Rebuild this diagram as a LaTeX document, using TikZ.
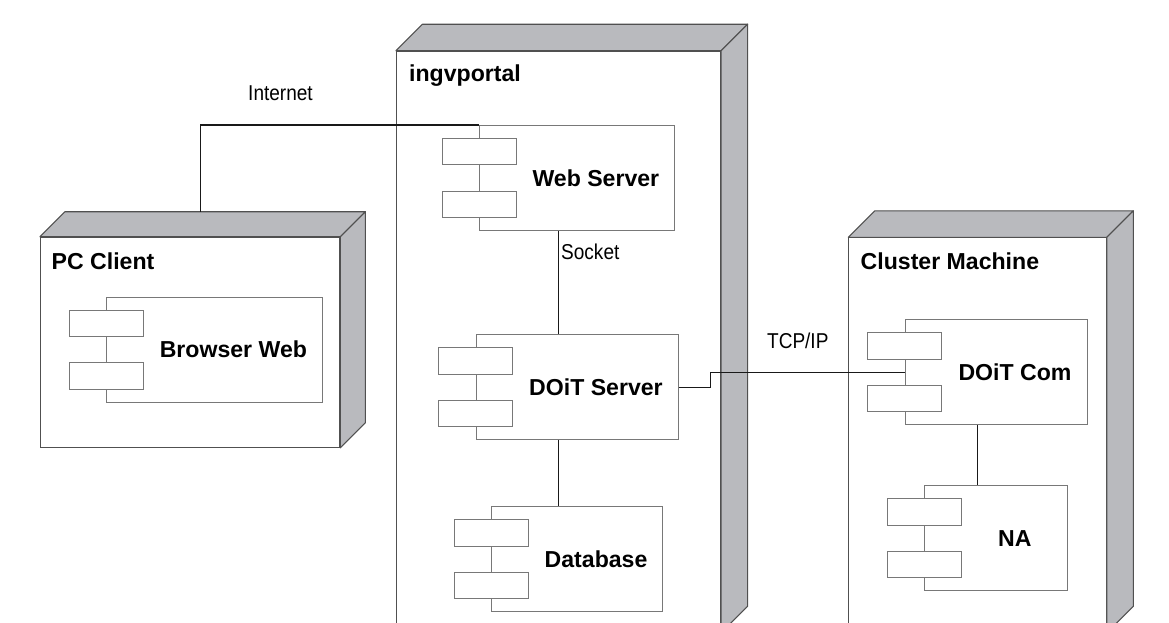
\documentclass[tikz,border=0pt]{standalone}
\usepackage{fontspec}
\setmainfont{Liberation Sans}
\newfontfamily\narrowfont[FakeStretch=0.885]{Liberation Sans}
\usetikzlibrary{calc}
\definecolor{facegray}{RGB}{185,186,190}
\definecolor{boxline}{RGB}{80,80,80}
\definecolor{compline}{RGB}{120,120,120}
\definecolor{wireline}{RGB}{25,25,25}
\tikzset{
  front/.style={draw=boxline, fill=white, line width=1.1pt, inner sep=0pt, anchor=north west},
  face/.style={draw=boxline, fill=facegray, line width=1.1pt, line join=round},
  nodelabel/.style={font=\bfseries\fontsize{23.1}{27}\selectfont, inner sep=0pt, anchor=west},
  comp/.style={draw=compline, fill=white, line width=1pt, inner sep=0pt, anchor=north west, minimum height=105pt},
  port/.style={draw=compline, fill=white, line width=1pt, inner sep=0pt, minimum width=74pt, minimum height=26.5pt},
  complabel/.style={font=\bfseries\fontsize{23.1}{27}\selectfont, inner sep=0pt},
  wire/.style={draw=wireline, line width=1.1pt},
  wirelabel/.style={font=\narrowfont\fontsize{21.5}{25}\selectfont, inner sep=0pt}
}
\newcommand{\boxnode}[6]{% name, left, top, width, height, depth
  \node[front, minimum width=#4pt, minimum height=#5pt] (#1) at (#2,#3) {};
  \draw[face] (#1.north west) -- ([shift={(#6,-#6)}]#1.north west) -- ([shift={(#6,-#6)}]#1.north east) -- (#1.north east) -- cycle;
  \draw[face] (#1.north east) -- ([shift={(#6,-#6)}]#1.north east) -- ([shift={(#6,-#6)}]#1.south east) -- (#1.south east) -- cycle;
}
\newcommand{\component}[5]{% name, left, top, width, label
  \node[comp, minimum width=#4pt] (#1) at (#2,#3) {};
  \node[port] (#1-p1) at ([yshift=26.4pt]#1.west) {};
  \node[port] (#1-p2) at ([yshift=-26.4pt]#1.west) {};
  \node[complabel] (#1-t) at ($(#1-p1.east |- #1.center)!0.5!(#1.east)$) {#5};
}
\begin{document}
\begin{tikzpicture}[x=1pt, y=-1pt]
\useasboundingbox (0,0) rectangle (1169,622);
\clip (0,0) rectangle (1169,622);
\fill[white] (0,0) rectangle (1169,622);

% deployment nodes
\boxnode{pc}{40}{236.7}{299.3}{210}{25}
\node[nodelabel] (pclabel) at (51.5,261) {PC Client};

\boxnode{portal}{396}{50.7}{324}{581}{26.5}
\node[nodelabel] (portallabel) at (409,76) {ingvportal};

\boxnode{cluster}{848.3}{237.3}{257.4}{394.4}{26.5}
\node[nodelabel] (clusterlabel) at (860.5,261.7) {Cluster Machine};

% components
\component{browser}{106}{296.7}{216.3}{Browser Web}
\component{ws}{479}{125}{195.3}{Web Server}
\component{doit}{475.7}{334.3}{202}{DOiT Server}
\component{db}{491.3}{506.3}{171}{Database}
\component{dc}{904.7}{319.3}{182}{DOiT Com}
\component{na}{924.3}{485.3}{142.4}{NA}

% connectors
\coordinate (pcjoin) at (200.7,211.7);
\draw[wire] (ws.north west) -| (pcjoin);
\node[wirelabel] (inetlabel) at (280.5,93) {Internet};

\draw[wire] ([xshift=-18.3pt]ws.south) -- ([xshift=-18.3pt]ws.south |- doit.north);
\node[wirelabel, anchor=west] (socklabel) at (561,251.7) {Socket};

\draw[wire] ([xshift=-18.3pt]doit.south) -- ([xshift=-18.3pt]doit.south |- db.north);

\draw[wire] (doit.east) -- ++(31.6,0) |- (dc.west);
\node[wirelabel] (tcplabel) at (797.8,340.7) {TCP/IP};

\draw[wire] ([xshift=-18.6pt]dc.south) -- ([xshift=-18.6pt]dc.south |- na.north);
\end{tikzpicture}
\end{document}
